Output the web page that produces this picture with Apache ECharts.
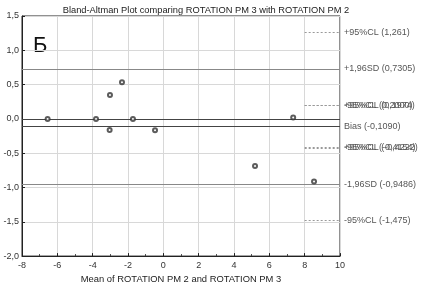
<!DOCTYPE html>
<html>
<head>
<meta charset="utf-8">
<script src="https://cdn.jsdelivr.net/npm/echarts@6/dist/echarts.min.js"></script>
<style>
  html, body { margin: 0; padding: 0; background: #fff; }
  #chart { width: 421px; height: 289px; }
</style>
</head>
<body>
<div id="chart"></div>
<script>
// данные
const meanVals = [-6.55, -3.81, -1.72, 7.35, -3.02, -3.04, -0.47, 5.19, 8.53, -2.34];
const diffVals = [0.0, 0.0, 0.0, 0.02, 0.35, -0.16, -0.165, -0.685, -0.914, 0.535];

// сплошные линии: ноль, смещение, пределы согласия
const solidLevels = [0, -0.109, 0.7305, -0.9486];
const solidLabels = ['', 'Bias (-0,1090)', '+1,96SD (0,7305)', '-1,96SD (-0,9486)'];

// пунктирные отрезки доверительных интервалов
const clLevels = [1.261, 0.2, 0.1974, -0.4154, -0.4222, -1.475];
const clLabels = ['+95%CL (1,261)', '-95%CL (0,2000)', '+95%CL (0,1974)', '-95%CL (-0,4154)', '+95%CL (-0,4222)', '-95%CL (-1,475)'];
const clStart = 8, clEnd = 10;

const xTicks = [-8, 10, 2];
const yTicks = [-2, 1.5, 0.5];

const fmt = v => v.toFixed(1).replace('.', ',');
const labelStyle = { color: '#555', fontSize: 9, fontFamily: 'Liberation Sans', distance: 4 };

const chart = echarts.init(document.getElementById('chart'));
chart.setOption({
    animation: false,
    textStyle: { fontFamily: 'Liberation Sans' },
    title: {
        text: 'Bland-Altman Plot comparing ROTATION PM 3 with ROTATION PM 2',
        left: 201, top: 1, textAlign: 'center',
        textStyle: { fontSize: 9.3, fontWeight: 'normal', color: '#222' }
    },
    graphic: [{
        type: 'text', left: 33, top: 35,
        style: { text: 'Б', fontSize: 22, fill: '#111', fontFamily: 'Liberation Sans' }
    }],
    grid: { left: 22, right: 81, top: 16, bottom: 29, show: true, borderColor: '#222', borderWidth: 1 },
    xAxis: {
        type: 'value', min: xTicks[0], max: xTicks[1], interval: xTicks[2],
        name: 'Mean of ROTATION PM 2 and ROTATION PM 3',
        nameLocation: 'middle', nameGap: 17,
        nameTextStyle: { fontSize: 9.4, color: '#222' },
        axisLine: { onZero: false, lineStyle: { color: '#222' } },
        axisTick: { inside: true, length: 3, lineStyle: { color: '#222' } },
        minorTick: { show: true, splitNumber: 2, length: 2, lineStyle: { color: '#444' } },
        axisLabel: { fontSize: 9, color: '#333', margin: 5 },
        splitLine: { lineStyle: { color: '#d8d8d8', width: 1 } }
    },
    yAxis: {
        type: 'value', min: yTicks[0], max: yTicks[1], interval: yTicks[2],
        axisLine: { show: true, onZero: false, lineStyle: { color: '#222' } },
        axisTick: { inside: true, length: 3, lineStyle: { color: '#222' } },
        axisLabel: { fontSize: 9, color: '#333', margin: 3, formatter: v => fmt(v) },
        splitLine: { lineStyle: { color: '#d8d8d8', width: 1 } }
    },
    series: [
        {
            type: 'scatter',
            data: meanVals.map((m, i) => [m, diffVals[i]]),
            symbol: 'emptyCircle', symbolSize: 4,
            itemStyle: { color: '#333', borderWidth: 1 },
            z: 5,
            markLine: {
                silent: true, symbol: 'none',
                data: solidLevels.map((v, i) => ({
                    yAxis: v,
                    lineStyle: { color: i < 2 ? '#444' : '#888', width: 1, type: 'solid' },
                    label: Object.assign({ show: !!solidLabels[i], position: 'end', formatter: solidLabels[i] }, labelStyle)
                })).concat(clLevels.map((v, i) => [
                    { coord: [clStart, v], lineStyle: { color: '#999', width: 1, type: [2, 2] },
                      label: Object.assign({ show: true, position: 'end', formatter: clLabels[i] }, labelStyle) },
                    { coord: [clEnd, v] }
                ]))
            }
        }
    ]
});
</script>
</body>
</html>
